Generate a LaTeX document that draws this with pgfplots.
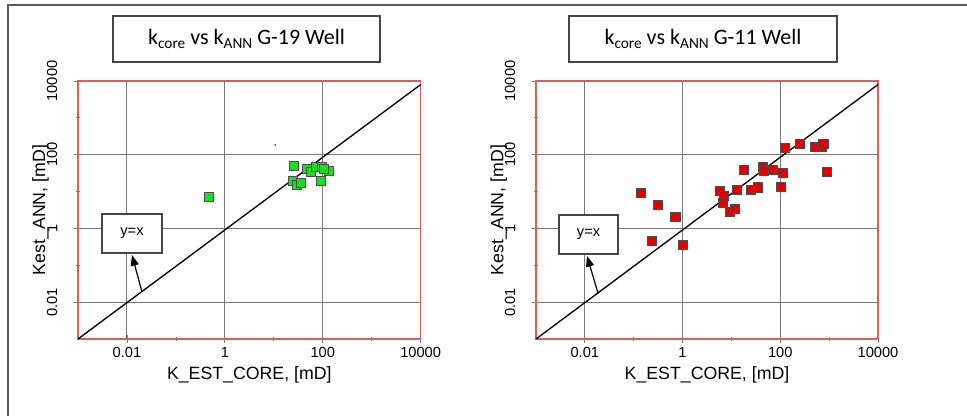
\documentclass[border=0pt]{standalone}
\usepackage{pgfplots}
\pgfplotsset{compat=1.18}
\usepackage{pgfplotstable}
\usepackage{fontspec}
\setmainfont{Liberation Sans}
\newfontfamily\calibri{Carlito}
\usetikzlibrary{arrows.meta}

\definecolor{framered}{RGB}{214,96,96}
\definecolor{gridgray}{RGB}{120,120,120}
\definecolor{ptgreen}{RGB}{30,220,30}
\definecolor{ptred}{RGB}{228,0,0}
\definecolor{boxgray}{RGB}{70,70,70}

% G-19 well: core permeability vs ANN estimate
\pgfplotstableread{
kcore kann
0.47 7.4
26 49
25 19.4
30 15.5
35 17.7
48 41
56 34
71 46
97 46
93 20
136 37
105 42
}\gnineteen

% G-11 well
\pgfplotstableread{
kcore kann
0.138 9.3
0.31 4.3
0.71 2.1
0.23 0.46
1.03 0.35
5.8 10.5
6.9 7.7
6.6 4.9
9.4 2.9
11.8 3.4
12.8 11.2
18 40
25 11.2
35 13
43 46
46 36
70 39
102 13.2
113 33
125 151
248 192
510 166
695 163
760 200
890 34
}\geleven

\begin{document}
\begin{tikzpicture}
\useasboundingbox (0,0) rectangle (725.25pt,312pt);
\fill[white] (0,0) rectangle (725.25pt,312pt);
% outer frame
\draw[boxgray!90, line width=1.2pt] (6pt,0) -- (6pt,308.25pt) -- (725.25pt,308.25pt);

% left panel
\begin{axis}[
    at={(58.5pt,57.75pt)}, anchor=south west,
    scale only axis, width=257pt, height=193.5pt,
    xmode=log, ymode=log,
    xmin=0.001, xmax=10000, ymin=0.001, ymax=10000,
    xtick={0.01,1,100,10000}, xticklabels={0.01,1,100,10000},
    ytick={0.01,1,100,10000}, yticklabels={0.01,1,100,10000},
    minor xtick={0.1,10,1000}, minor ytick={0.1,10,1000},
    tick pos=left, tick align=center,
    major tick length=6pt, minor tick length=3pt,
    tick style={gridgray, line width=0.6pt},
    grid=major,
    major grid style={gridgray, line width=0.7pt},
    axis line style={framered, line width=0.8pt},
    ticklabel style={font=\fontsize{11}{13}\selectfont},
    yticklabel style={rotate=90, anchor=south, yshift=9pt},
    xlabel={K\_EST\_CORE, [mD]},
    ylabel={Kest\_ANN, [mD]},
    label style={font=\fontsize{13.3}{15}\selectfont},
    xlabel style={at={(axis description cs:0.5,0)}, anchor=center, yshift=-27pt},
    ylabel style={at={(axis description cs:0,0.5)}, anchor=center, yshift=28pt},
    clip=false,
  ]
  \addplot[black, line width=1pt] coordinates {(0.001,0.001) (10000,8000)};
  \addplot[only marks, mark=square*, mark size=3.4pt,
    mark options={draw=black!70, line width=0.5pt, fill=ptgreen}]
    table[x=kcore, y=kann] {\gnineteen};
  \addplot[only marks, mark=*, mark size=0.5pt, blue!70] coordinates {(10.7,185)};
\end{axis}

% right panel
\begin{axis}[
    at={(402pt,57.75pt)}, anchor=south west,
    scale only axis, width=256.5pt, height=193.5pt,
    xmode=log, ymode=log,
    xmin=0.001, xmax=10000, ymin=0.001, ymax=10000,
    xtick={0.01,1,100,10000}, xticklabels={0.01,1,100,10000},
    ytick={0.01,1,100,10000}, yticklabels={0.01,1,100,10000},
    minor xtick={0.1,10,1000}, minor ytick={0.1,10,1000},
    tick pos=left, tick align=center,
    major tick length=6pt, minor tick length=3pt,
    tick style={gridgray, line width=0.6pt},
    grid=major,
    major grid style={gridgray, line width=0.7pt},
    axis line style={framered, line width=0.8pt},
    ticklabel style={font=\fontsize{11}{13}\selectfont},
    yticklabel style={rotate=90, anchor=south, yshift=9pt},
    xlabel={K\_EST\_CORE, [mD]},
    ylabel={Kest\_ANN, [mD]},
    label style={font=\fontsize{13.3}{15}\selectfont},
    xlabel style={at={(axis description cs:0.5,0)}, anchor=center, yshift=-27pt},
    ylabel style={at={(axis description cs:0,0.5)}, anchor=center, yshift=28pt},
    clip=false,
  ]
  \addplot[black, line width=1pt] coordinates {(0.001,0.001) (10000,8000)};
  \addplot[only marks, mark=square*, mark size=3.4pt,
    mark options={draw=black!70, line width=0.5pt, fill=ptred}]
    table[x=kcore, y=kann] {\geleven};
\end{axis}

% titles
\node[draw=boxgray, line width=1pt, fill=white, minimum width=200.25pt, minimum height=34.5pt,
  font=\calibri\fontsize{16.5}{19}\selectfont] at (184.9pt,282.75pt)
  {k\raisebox{-0.18em}{\fontsize{11.5}{12}\selectfont core} vs k\raisebox{-0.18em}{\fontsize{11.5}{12}\selectfont ANN} G-19 Well};
\node[draw=boxgray, line width=1pt, fill=white, minimum width=201pt, minimum height=34.5pt,
  font=\calibri\fontsize{16.5}{19}\selectfont] at (527.25pt,282.75pt)
  {k\raisebox{-0.18em}{\fontsize{11.5}{12}\selectfont core} vs k\raisebox{-0.18em}{\fontsize{11.5}{12}\selectfont ANN} G-11 Well};

% y=x callouts
\node[draw=boxgray, line width=1pt, fill=white, minimum width=45pt, minimum height=29.25pt,
  font=\fontsize{11}{13}\selectfont] at (99pt,136.9pt) {y=x};
\draw[-{Triangle[length=8pt,width=6pt]}, line width=0.9pt] (106.5pt,93pt) -- (99pt,120.75pt);
\node[draw=boxgray, line width=1pt, fill=white, minimum width=44.25pt, minimum height=29.25pt,
  font=\fontsize{11}{13}\selectfont] at (441.4pt,136.1pt) {y=x};
\draw[-{Triangle[length=8pt,width=6pt]}, line width=0.9pt] (448.5pt,92.25pt) -- (440.25pt,120pt);
\end{tikzpicture}
\end{document}
